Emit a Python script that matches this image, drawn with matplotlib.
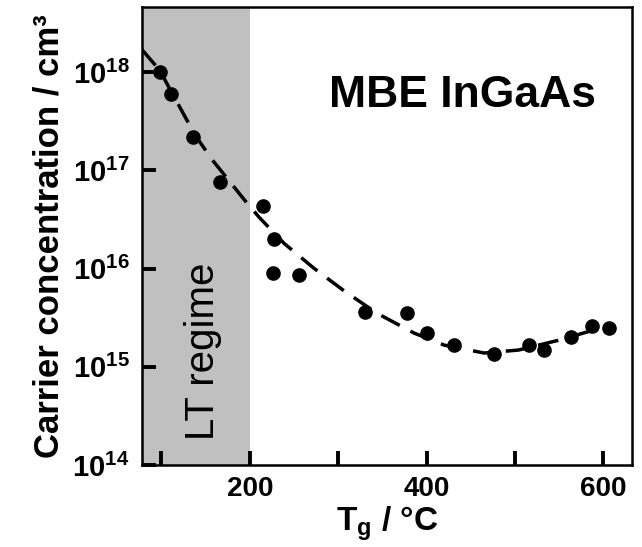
import matplotlib
matplotlib.use('Agg')
import matplotlib.pyplot as plt

# measured points (growth temperature in C, carrier concentration in cm^-3)
temps = [98, 111, 136, 166, 215, 227, 226, 256, 330, 378, 401, 431, 476, 516, 533, 563, 587, 606]
conc = [1.0e18, 6.0e17, 2.2e17, 7.6e16, 4.3e16, 2.0e16, 9.0e15, 8.5e15, 3.6e15, 3.5e15,
        2.2e15, 1.66e15, 1.35e15, 1.66e15, 1.48e15, 2.0e15, 2.6e15, 2.5e15]

# dashed guide curve
fit_t = [78, 98, 138, 157, 194, 211, 239, 273, 307, 344, 386, 420, 465, 504, 549, 595]
fit_c = [1.7e18, 1.05e18, 2.3e17, 1.3e17, 5.0e16, 3.3e16, 1.8e16, 1.0e16, 5.9e15, 3.5e15,
         2.2e15, 1.66e15, 1.38e15, 1.48e15, 1.86e15, 2.45e15]

x_ticks = [100, 200, 300, 400, 500, 600]
x_labels = ['', '200', '', '400', '', '600']
y_ticks = [1e14, 1e15, 1e16, 1e17, 1e18]
y_labels = [r'$10^{14}$', r'$10^{15}$', r'$10^{16}$', r'$10^{17}$', r'$10^{18}$']

LT_EDGE = 200

plt.rcParams['font.family'] = 'Liberation Sans'
plt.rcParams['mathtext.fontset'] = 'custom'
plt.rcParams['mathtext.rm'] = 'Liberation Sans:bold'
plt.rcParams['mathtext.bf'] = 'Liberation Sans:bold'
plt.rcParams['mathtext.it'] = 'Liberation Sans:bold'

fig = plt.figure(figsize=(6.42, 5.47), dpi=100)
ax = fig.add_axes([0.221, 0.150, 0.763, 0.837])

ax.set_xlim(78, 632)
ax.set_ylim(1e14, 4.6e18)
ax.set_yscale('log')

ax.axvspan(78, LT_EDGE, color='#c0c0c0', lw=0, zorder=0)

ax.plot(fit_t, fit_c, color='black', lw=2.5, dashes=(6, 3.5), zorder=2)
ax.plot(temps, conc, 'o', color='black', ms=9.5, zorder=3)

ax.set_xticks(x_ticks)
ax.set_xticklabels(x_labels, fontsize=20, fontweight='bold')
ax.set_yticks(y_ticks)
ax.set_yticklabels(y_labels, fontsize=21)
ax.yaxis.set_minor_locator(matplotlib.ticker.NullLocator())
ax.tick_params(direction='in', length=10, width=2.8, top=False, right=False)
ax.tick_params(axis='x', pad=8)
ax.tick_params(axis='y', pad=9)

for s in ax.spines.values():
    s.set_linewidth(1.8)

ax.set_xlabel(r'T$_\mathregular{g}$ / °C', fontsize=24, fontweight='bold', labelpad=2)
ax.set_ylabel('Carrier concentration / cm³', fontsize=25, fontweight='bold', labelpad=5)

ax.text(147, 10**14.25, 'LT regime', rotation=90, ha='center', va='bottom', fontsize=29)
ax.text(0.655, 0.808, 'MBE InGaAs', transform=ax.transAxes, ha='center', va='center',
        fontsize=32, fontweight='bold')

fig.savefig('out.png', dpi=100)
